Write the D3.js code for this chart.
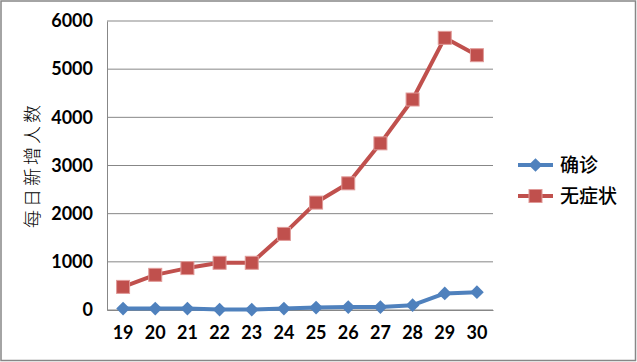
<!DOCTYPE html>
<html>
<head>
<meta charset="utf-8">
<script src="https://cdn.jsdelivr.net/npm/d3@7"></script>
<style>
  body { margin: 0; background: #fff; }
  svg { display: block; }
</style>
</head>
<body>
<div id="chart"></div>
<script>
const days = ["19", "20", "21", "22", "23", "24", "25", "26", "27", "28", "29", "30"];
const confirmed = [30, 30, 30, 10, 10, 30, 50, 60, 60, 100, 345, 370];
const asymptomatic = [480, 730, 870, 980, 980, 1580, 2230, 2630, 3460, 4370, 5650, 5290];
const yTicks = [0, 1000, 2000, 3000, 4000, 5000, 6000];
const seriesNames = ["确诊", "无症状"];
const colors = ["#4F81BD", "#C0504D"];

const width = 637,
    height = 362,
    margin = ({top: 21, right: 144, bottom: 52, left: 107});

let svg = d3.select("#chart")
    .append("svg")
    .attr("width", width)
    .attr("height", height);

// outer frame
svg.append("rect")
    .attr("x", 1).attr("y", 1)
    .attr("width", width - 2.5).attr("height", height - 2.5)
    .attr("fill", "#fff")
    .attr("stroke", "#878787")
    .attr("stroke-width", 1.5);

let x = d3.scaleBand()
    .domain(days)
    .range([margin.left, width - margin.right]);

let y = d3.scaleLinear()
    .domain([0, 6000])
    .range([height - margin.bottom, margin.top]);

// grid lines
svg.append("g")
    .selectAll("line")
    .data(yTicks)
    .join("line")
    .attr("x1", margin.left)
    .attr("x2", width - margin.right)
    .attr("y1", d => y(d))
    .attr("y2", d => y(d))
    .attr("stroke", "#878787")
    .attr("stroke-width", 1);

const yAxis = g => g
    .attr("transform", `translate(${margin.left},0)`)
    .call(d3.axisLeft(y).tickValues(yTicks).tickFormat(d3.format("d")).tickSize(0).tickPadding(14))
    .call(g => g.select(".domain").attr("stroke", "#878787"));

const xAxis = g => g
    .attr("transform", `translate(0,${height - margin.bottom})`)
    .call(d3.axisBottom(x).tickSize(0).tickPadding(16))
    .call(g => g.select(".domain").attr("stroke", "#878787"));

svg.append("g").call(yAxis);
svg.append("g").call(xAxis);

svg.selectAll(".tick text")
    .attr("font-family", "Lato, 'Open Sans', sans-serif")
    .attr("font-weight", "bold")
    .attr("font-size", 18)
    .attr("fill", "#000");

svg.append("text")
    .attr("transform", `translate(39,165) rotate(-90)`)
    .attr("text-anchor", "middle")
    .attr("font-family", "'Noto Sans CJK SC', sans-serif")
    .attr("font-size", 18)
    .attr("font-weight", 300)
    .attr("letter-spacing", 3)
    .attr("fill", "#000")
    .text("每日新增人数");

const line = d3.line()
    .x((d, i) => x(days[i]) + x.bandwidth() / 2)
    .y(d => y(d));

const diamond = d3.symbol().type(d3.symbolDiamond2).size(120);

function drawSeries(values, color, kind) {
    svg.append("path")
        .datum(values)
        .attr("fill", "none")
        .attr("stroke", color)
        .attr("stroke-width", 4)
        .attr("stroke-linejoin", "round")
        .attr("d", line);
    let g = svg.append("g");
    if (kind === "diamond") {
        g.selectAll("path")
            .data(values)
            .join("path")
            .attr("transform", (d, i) => `translate(${x(days[i]) + x.bandwidth() / 2},${y(d)})`)
            .attr("d", diamond)
            .attr("fill", color);
    } else {
        g.selectAll("rect")
            .data(values)
            .join("rect")
            .attr("x", (d, i) => x(days[i]) + x.bandwidth() / 2 - 6.5)
            .attr("y", d => y(d) - 6.5)
            .attr("width", 13)
            .attr("height", 13)
            .attr("fill", color)
            .attr("stroke", "#e09a98")
            .attr("stroke-width", 1);
    }
}

drawSeries(confirmed, colors[0], "diamond");
drawSeries(asymptomatic, colors[1], "square");

// legend
const legendY = [165, 196];
seriesNames.forEach((name, i) => {
    let g = svg.append("g").attr("transform", `translate(518,${legendY[i]})`);
    g.append("line")
        .attr("x1", 0).attr("x2", 35)
        .attr("stroke", colors[i])
        .attr("stroke-width", 4);
    if (i === 0) {
        g.append("path")
            .attr("transform", "translate(17.5,0)")
            .attr("d", diamond)
            .attr("fill", colors[i]);
    } else {
        g.append("rect")
            .attr("x", 11).attr("y", -6.5)
            .attr("width", 13).attr("height", 13)
            .attr("fill", colors[i])
            .attr("stroke", "#e09a98");
    }
    g.append("text")
        .attr("x", 42)
        .attr("y", 0)
        .attr("dy", "0.35em")
        .attr("font-family", "'Noto Sans CJK SC', sans-serif")
        .attr("font-size", 19)
        .attr("font-weight", 500)
        .attr("fill", "#000")
        .text(name);
});
</script>
</body>
</html>
